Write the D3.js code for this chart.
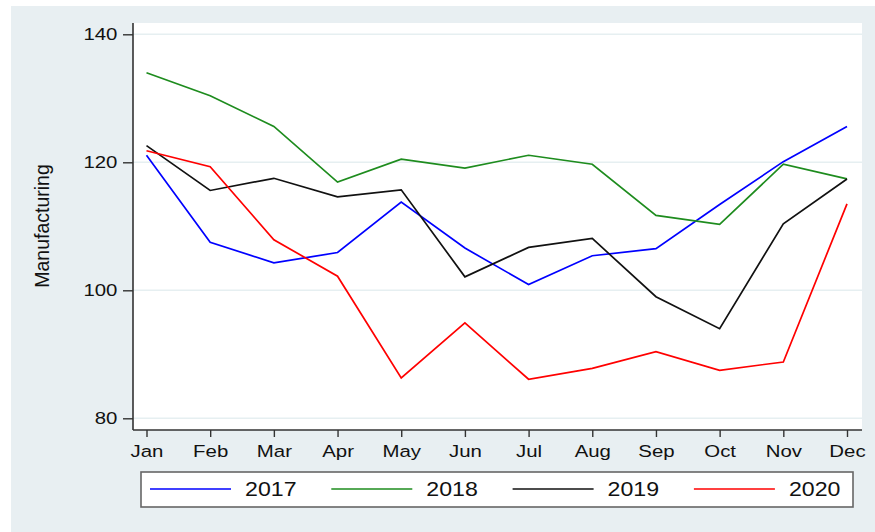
<!DOCTYPE html>
<html lang="en">

<head>
    <meta charset="UTF-8" />
    <title>Manufacturing</title>
    <script src="https://d3js.org/d3.v7.min.js"></script>
    <style>
        body { margin: 0; background: #ffffff; }
        text { font-family: "Liberation Sans", Arial, sans-serif; fill: #111; }
    </style>
</head>

<body>
    <svg id="svg" width="875" height="532"></svg>
</body>
<script>

const months = ['Jan', 'Feb', 'Mar', 'Apr', 'May', 'Jun', 'Jul', 'Aug', 'Sep', 'Oct', 'Nov', 'Dec']
const years = ['2017', '2018', '2019', '2020']
const yTicks = [80, 100, 120, 140]

// values
const v2017 = [121.1, 107.5, 104.3, 105.9, 113.8, 106.6, 100.9, 105.4, 106.5, 113.4, 120.1, 125.6]
const v2018 = [134.0, 130.4, 125.6, 116.9, 120.5, 119.1, 121.1, 119.7, 111.7, 110.3, 119.7, 117.4]
const v2019 = [122.6, 115.6, 117.5, 114.6, 115.7, 102.1, 106.7, 108.1, 99.0, 94.0, 110.4, 117.4]
const v2020 = [121.8, 119.3, 107.9, 102.2, 86.3, 94.9, 86.1, 87.8, 90.4, 87.5, 88.8, 113.5]

const colors = ['#0000ff', '#1e8c1e', '#111111', '#ff0000']
const series = [v2017, v2018, v2019, v2020]

const svg = d3.select('#svg')

// graph region
svg.append('rect').attr('x', 11).attr('y', 6).attr('width', 864).attr('height', 526).attr('fill', '#e8eff2')

const pLeft = 133, pRight = 862, pTop = 23, pBottom = 430

svg.append('rect').attr('x', pLeft).attr('y', pTop).attr('width', pRight - pLeft).attr('height', pBottom - pTop).attr('fill', '#ffffff')

const x = d3.scalePoint().domain(months).range([146.5, 847])
const y = d3.scaleLinear().domain([80, 140]).range([418.3, 34.3])

// grid lines
svg.append('g').selectAll('line')
    .data(yTicks)
    .join('line')
    .attr('x1', pLeft).attr('x2', pRight)
    .attr('y1', d => y(d)).attr('y2', d => y(d))
    .attr('stroke', '#e6eff1').attr('stroke-width', 1.5)

// y axis
const gy = svg.append('g').attr('transform', `translate(${pLeft},0)`)
    .call(d3.axisLeft(y).tickValues(yTicks).tickSize(10).tickPadding(4).tickSizeOuter(0))
gy.select('.domain').remove()
gy.append('line').attr('x1', 0).attr('x2', 0).attr('y1', pTop).attr('y2', pBottom).attr('stroke', '#333').attr('stroke-width', 1.6)
gy.selectAll('.tick line').attr('stroke', '#333').attr('stroke-width', 1.4)
gy.selectAll('.tick text')
    .attr('font-size', 17).attr('fill', '#111')
    .attr('font-family', '"Liberation Sans", Arial, sans-serif')
    .attr('transform', 'scale(1.2,1)')
    .attr('x', -13)

// x axis
const gx = svg.append('g').attr('transform', `translate(0,${pBottom})`)
    .call(d3.axisBottom(x).tickSize(7).tickPadding(8).tickSizeOuter(0))
gx.select('.domain').remove()
gx.append('line').attr('x1', pLeft).attr('x2', pRight).attr('y1', 0).attr('y2', 0).attr('stroke', '#333').attr('stroke-width', 1.6)
gx.selectAll('.tick line').attr('stroke', '#333').attr('stroke-width', 1.4)
gx.selectAll('.tick text')
    .attr('font-size', 17).attr('fill', '#111')
    .attr('font-family', '"Liberation Sans", Arial, sans-serif')
    .attr('transform', 'scale(1.2,1)')

// y title
svg.append('text')
    .attr('transform', 'translate(49,226) rotate(-90)')
    .attr('text-anchor', 'middle')
    .attr('font-size', 19.5)
    .text('Manufacturing')

// lines
const line = d3.line().x((d, i) => x(months[i])).y(d => y(d))
svg.append('g').selectAll('path')
    .data(series)
    .join('path')
    .attr('d', d => line(d))
    .attr('fill', 'none')
    .attr('stroke', (d, i) => colors[i])
    .attr('stroke-width', 1.7)
    .attr('stroke-linejoin', 'miter')

// legend
svg.append('rect').attr('x', 141).attr('y', 472).attr('width', 712).attr('height', 35)
    .attr('fill', '#ffffff').attr('stroke', '#666').attr('stroke-width', 1.6)

const lg = svg.append('g').selectAll('g')
    .data(years)
    .join('g')
    .attr('transform', (d, i) => `translate(${150 + i * 181.3},489)`)
lg.append('line').attr('x1', 0).attr('x2', 81).attr('y1', 0).attr('y2', 0)
    .attr('stroke', (d, i) => colors[i]).attr('stroke-width', 1.7)
lg.append('text')
    .attr('transform', 'translate(95,0) scale(1.13,1)')
    .attr('dy', '0.36em')
    .attr('font-size', 20.5)
    .text(d => d)

</script>

</html>
